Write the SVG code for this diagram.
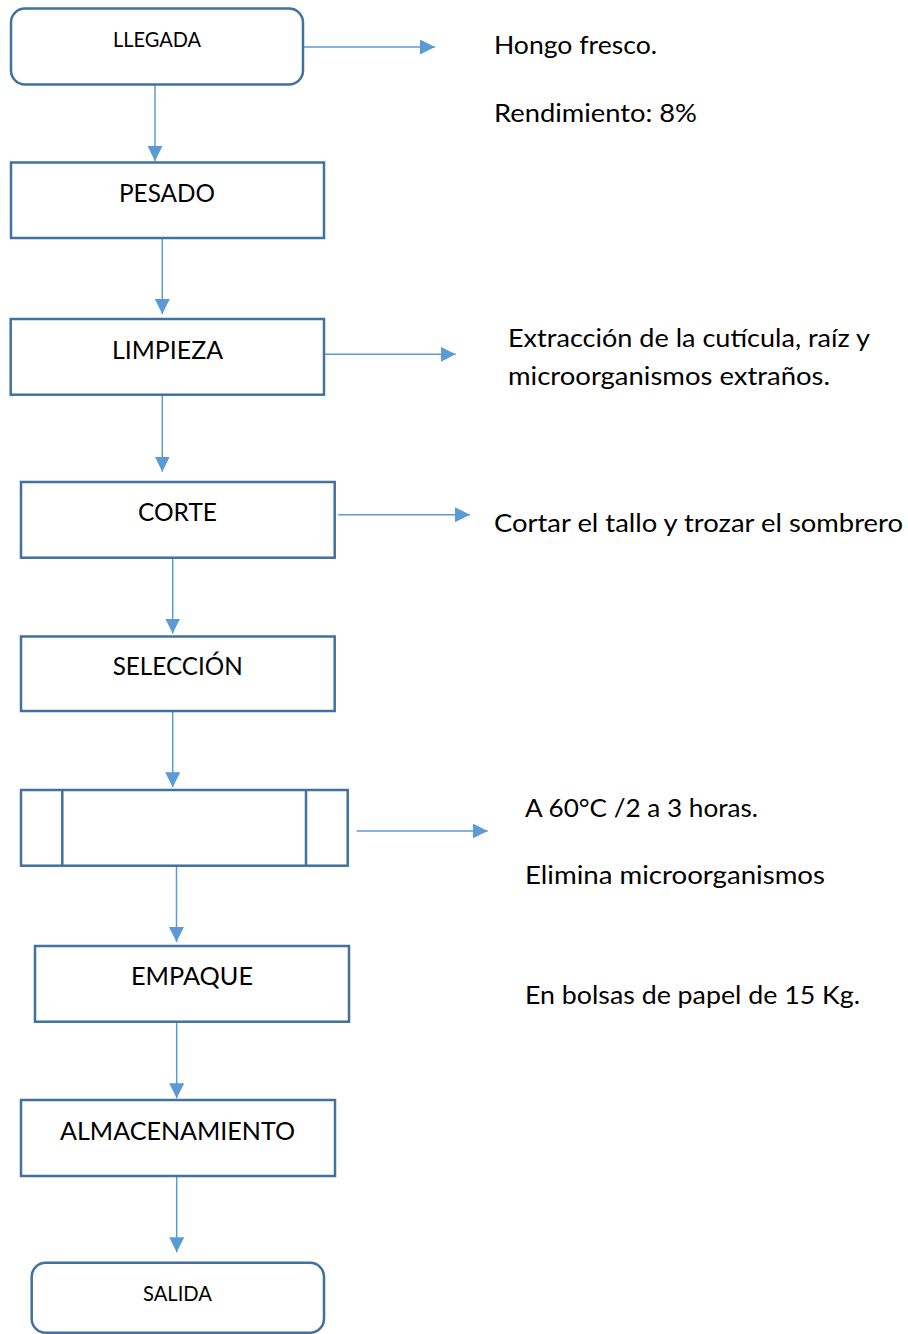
<svg xmlns="http://www.w3.org/2000/svg" width="908" height="1334" viewBox="0 0 908 1334">
  <style>
    .box { fill: #ffffff; stroke: #41719C; stroke-width: 2.5; }
    .inner { stroke: #41719C; stroke-width: 2.5; }
    .conn { stroke: #5B9BD5; stroke-width: 1.5; fill: none; marker-end: url(#ah); }
    .lbl { font-family: Lato, "Liberation Sans", sans-serif; font-size: 25.5px; fill: #000000; text-anchor: middle; }
    .lbls { font-family: Lato, "Liberation Sans", sans-serif; font-size: 21px; fill: #000000; text-anchor: middle; }
    .note { font-family: Lato, "Liberation Sans", sans-serif; font-size: 25.5px; fill: #000000; }
  </style>
  <defs>
    <marker id="ah" markerUnits="userSpaceOnUse" markerWidth="15" markerHeight="15" refX="15" refY="7.5" orient="auto">
      <path d="M0,0 L15,7.5 L0,15 Z" fill="#5B9BD5"/>
    </marker>
  </defs>
  <rect width="908" height="1334" fill="#ffffff"/>

  <g id="connectors">
    <line class="conn" x1="303" y1="47" x2="435" y2="47"/>
    <line class="conn" x1="155" y1="84.5" x2="155" y2="161"/>
    <line class="conn" x1="162.3" y1="238" x2="162.3" y2="314"/>
    <line class="conn" x1="324" y1="354.3" x2="455.7" y2="354.3"/>
    <line class="conn" x1="162.3" y1="394.7" x2="162.3" y2="471.7"/>
    <line class="conn" x1="338.3" y1="514.7" x2="470" y2="514.7"/>
    <line class="conn" x1="172.7" y1="557.7" x2="172.7" y2="633.5"/>
    <line class="conn" x1="172.7" y1="711" x2="172.7" y2="787.3"/>
    <line class="conn" x1="356.7" y1="831" x2="487.7" y2="831"/>
    <line class="conn" x1="176.5" y1="865.7" x2="176.5" y2="942"/>
    <line class="conn" x1="176.7" y1="1021.7" x2="176.7" y2="1098.3"/>
    <line class="conn" x1="176.7" y1="1176" x2="176.7" y2="1252.3"/>
  </g>

  <g id="llegada">
    <rect class="box" x="11" y="8.5" width="292" height="76" rx="14"/>
    <text class="lbls" x="157" y="46.7" textLength="88" lengthAdjust="spacingAndGlyphs">LLEGADA</text>
  </g>
  <g id="pesado">
    <rect class="box" x="11" y="162.5" width="313" height="75.5"/>
    <text class="lbl" x="167" y="202" textLength="96" lengthAdjust="spacingAndGlyphs">PESADO</text>
  </g>
  <g id="limpieza">
    <rect class="box" x="10.7" y="319" width="313.3" height="75.7"/>
    <text class="lbl" x="167.5" y="358.5" textLength="111" lengthAdjust="spacingAndGlyphs">LIMPIEZA</text>
  </g>
  <g id="corte">
    <rect class="box" x="21" y="482" width="313.7" height="75.7"/>
    <text class="lbl" x="177.5" y="520.7" textLength="79" lengthAdjust="spacingAndGlyphs">CORTE</text>
  </g>
  <g id="seleccion">
    <rect class="box" x="21" y="636.5" width="313.7" height="74.5"/>
    <text class="lbl" x="177.7" y="675" textLength="130" lengthAdjust="spacingAndGlyphs">SELECCIÓN</text>
  </g>
  <g id="secado">
    <rect class="box" x="21" y="790" width="326.7" height="75.7"/>
    <line class="inner" x1="62.3" y1="790" x2="62.3" y2="865.7"/>
    <line class="inner" x1="306" y1="790" x2="306" y2="865.7"/>
  </g>
  <g id="empaque">
    <rect class="box" x="35" y="946" width="314" height="75.7"/>
    <text class="lbl" x="192" y="985" textLength="122" lengthAdjust="spacingAndGlyphs">EMPAQUE</text>
  </g>
  <g id="almacenamiento">
    <rect class="box" x="21" y="1100" width="314" height="76"/>
    <text class="lbl" x="177.5" y="1140" textLength="235" lengthAdjust="spacingAndGlyphs">ALMACENAMIENTO</text>
  </g>
  <g id="salida">
    <rect class="box" x="31.7" y="1262.7" width="292.3" height="70" rx="14"/>
    <text class="lbls" x="177.5" y="1300.7" textLength="69" lengthAdjust="spacingAndGlyphs">SALIDA</text>
  </g>

  <g id="notes">
    <text class="note" x="494" y="54" textLength="163" lengthAdjust="spacingAndGlyphs">Hongo fresco.</text>
    <text class="note" x="494" y="122" textLength="203" lengthAdjust="spacingAndGlyphs">Rendimiento: 8%</text>
    <text class="note" x="508" y="347" textLength="362" lengthAdjust="spacingAndGlyphs">Extracción de la cutícula, raíz y</text>
    <text class="note" x="508" y="385" textLength="322" lengthAdjust="spacingAndGlyphs">microorganismos extraños.</text>
    <text class="note" x="494" y="532" textLength="409" lengthAdjust="spacingAndGlyphs">Cortar el tallo y trozar el sombrero</text>
    <text class="note" x="525" y="817" textLength="233" lengthAdjust="spacingAndGlyphs">A 60°C /2 a 3 horas.</text>
    <text class="note" x="525" y="884" textLength="300" lengthAdjust="spacingAndGlyphs">Elimina microorganismos</text>
    <text class="note" x="525" y="1004" textLength="335" lengthAdjust="spacingAndGlyphs">En bolsas de papel de 15 Kg.</text>
  </g>
</svg>
